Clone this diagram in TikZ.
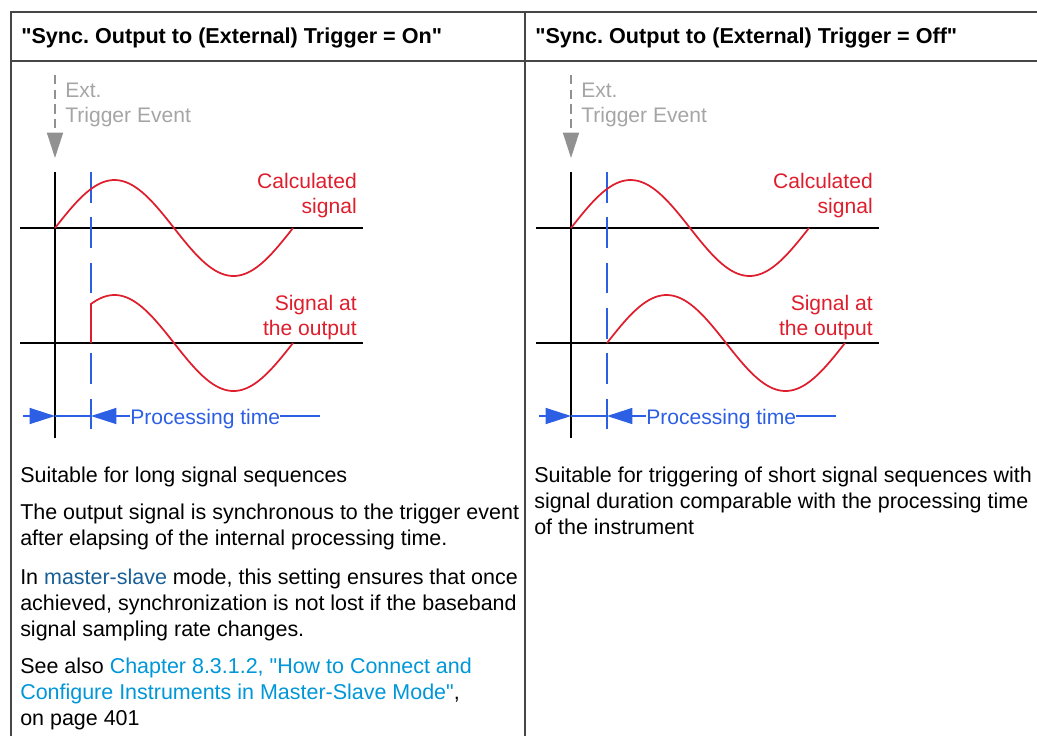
\documentclass[tikz,border=0pt]{standalone}
\usepackage{fontspec}
\setmainfont{Liberation Sans}[Ligatures=TeXOff]
\usetikzlibrary{arrows.meta, positioning}
\frenchspacing

\definecolor{gridgray}{RGB}{70,70,70}
\definecolor{sigred}{RGB}{222,30,45}
\definecolor{ptblue}{RGB}{45,95,228}
\definecolor{trggray}{RGB}{165,165,165}
\definecolor{tipgray}{RGB}{145,145,145}
\definecolor{linkdark}{RGB}{25,95,150}
\definecolor{linklight}{RGB}{0,150,215}

\begin{document}
\begin{tikzpicture}[
    x=0.75pt, y=-0.75pt,
    rule/.style={draw=gridgray, line width=1.1pt},
    axis/.style={black, line width=1.3pt},
    marker/.style={ptblue, line width=1.3pt, dash pattern=on 23pt off 11pt},
    sig/.style={sigred, line width=1.3pt},
    trig/.style={tipgray, line width=1.1pt, dash pattern=on 7pt off 4pt, -{Triangle[length=19pt, width=12pt]}},
    ptline/.style={ptblue, line width=1.1pt},
    ptarrow/.style={ptline, -{Triangle[length=19pt, width=12pt]}},
    lbl/.style={inner sep=0pt, font=\fontsize{15.8}{18.75}\selectfont},
    head/.style={inner sep=0pt, anchor=base west, font=\fontsize{16.2}{19.5}\selectfont\bfseries},
    body/.style={inner sep=0pt, anchor=north west, align=left, font=\fontsize{16.1}{19.5}\selectfont}
]
\useasboundingbox (0,0) rectangle (1037,736);

% Table rules
\draw[rule] (11,736) -- (11,12) -- (1037,12);
\draw[rule] (11,61) -- (1037,61);
\draw[rule] (525,12) -- (525,736);

% Header row
\node[head] (hdon) at (21,43) {"Sync. Output to (External) Trigger = On"};
\node[head] (hdoff) at (535,43) {"Sync. Output to (External) Trigger = Off"};

% Both timing diagrams (lower signal starts at phase \st)
\foreach \px/\nm/\st in {0/on/36, 516/off/0} {
  \begin{scope}[shift={(\px,0)}]
    \coordinate (tt-\nm) at (55,75);
    \coordinate (tb-\nm) at (55,158);
    \coordinate (ax-\nm) at (55,172);
    \coordinate (ab-\nm) at (55,438);
    \coordinate (mt-\nm) at (91,172);
    \coordinate (mb-\nm) at (91,438);
    \coordinate (pa-\nm) at (23,416);
    \coordinate (pb-\nm) at (55,416);
    \coordinate (pm-\nm) at (91,416);
    \coordinate (pe-\nm) at (320,416);

    % trigger event
    \draw[trig] (tt-\nm) -- (tb-\nm);
    \node[lbl, trggray, anchor=north west, align=left] (ext-\nm) at (65,83) {Ext.\\Trigger Event};

    % axes
    \draw[axis] (ax-\nm) -- (ab-\nm);
    \draw[axis] (20,228) -- (363,228);
    \draw[axis] (20,343) -- (363,343);
    \draw[marker] (mt-\nm) -- (mb-\nm);

    % signals
    \draw[sig] plot[domain=0:238, samples=80, smooth] ({55+\x}, {228-48*sin(\x/238*360)});
    \draw[sig] (91,343) -- plot[domain=\st:238, samples=80, smooth] ({91-\st+\x}, {343-48*sin(\x/238*360)});
    \node[lbl, sigred, anchor=north east, align=right] (calc-\nm) at (357,173) {Calculated\\signal};
    \node[lbl, sigred, anchor=north east, align=right] (out-\nm) at (357,295) {Signal at\\the output};

    % processing time
    \node[lbl, ptblue, anchor=base west] (pt-\nm) at (130,424) {Processing time};
    \draw[ptarrow] (pa-\nm) -- (pb-\nm);
    \draw[ptline] (pb-\nm) -- (pm-\nm);
    \draw[ptarrow] (pt-\nm.west |- pm-\nm) -- (pm-\nm);
    \draw[ptline] (pt-\nm.east |- pe-\nm) -- (pe-\nm);
  \end{scope}
}

% Description texts
\node[body] (d1) at (20,467) {Suitable for long signal sequences};
\node[body] (d2) at (20,504) {The output signal is synchronous to the trigger event\\after elapsing of the internal processing time.};
\node[body] (d3) at (20,569) {In {\color{linkdark}master-slave} mode, this setting ensures that once\\achieved, synchronization is not lost if the baseband\\signal sampling rate changes.};
\node[body] (d4) at (20,658) {See also {\color{linklight}Chapter 8.3.1.2, "How to Connect and}\\{\color{linklight}Configure Instruments in Master-Slave Mode"},\\on page 401};
\node[body] (d5) at (534,467) {Suitable for triggering of short signal sequences with\\signal duration comparable with the processing time\\of the instrument};

\end{tikzpicture}
\end{document}
